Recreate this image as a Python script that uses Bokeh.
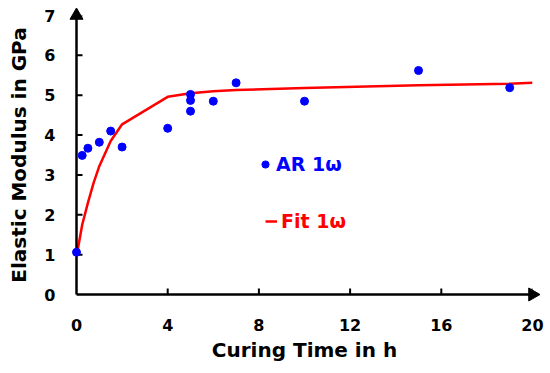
import math
from bokeh.plotting import figure
from bokeh.models import Range1d, Legend, LegendItem, FixedTicker
from bokeh.embed import file_html
from bokeh.resources import INLINE

# Measured data (AR 1ω)
ar_time = [0, 0.25, 0.5, 1, 1.5, 2, 4, 5, 5, 5, 6, 7, 10, 15, 19]
ar_modulus = [1.06, 3.49, 3.67, 3.82, 4.10, 3.70, 4.17, 5.02, 4.87, 4.60, 4.85, 5.31, 4.85, 5.62, 5.19]

# Fit curve (Fit 1ω)
fit_time = [0, 0.25, 0.5, 0.75, 1, 1.5, 2, 4, 5, 6, 7, 10, 15, 19, 20]
fit_modulus = [0.95, 1.75, 2.3, 2.8, 3.22, 3.85, 4.27, 4.96, 5.05, 5.1, 5.13, 5.18, 5.25, 5.29, 5.31]

x_ticks = [0, 4, 8, 12, 16, 20]
y_ticks = [0, 1, 2, 3, 4, 5, 6, 7]

FONT = "DejaVu Sans"
BLUE = "#0000FF"
RED = "#FF0000"

p = figure(width=548, height=370,
           x_range=Range1d(x_ticks[0], x_ticks[-1]), y_range=Range1d(y_ticks[0], y_ticks[-1]),
           output_backend="svg", toolbar_location=None,
           min_border_left=76, min_border_right=16,
           min_border_top=15, min_border_bottom=76)
p.grid.visible = False
p.outline_line_color = None
p.background_fill_color = "white"

for ax in (p.xaxis, p.yaxis):
    ax.axis_line_color = "black"
    ax.axis_line_width = 2.5
    ax.major_tick_in = 0
    ax.major_tick_out = 0
    ax.minor_tick_line_color = None
    ax.major_tick_line_color = None
    ax.major_label_text_font = FONT
    ax.major_label_text_font_style = "bold"
    ax.major_label_text_font_size = "16px"
    ax.major_label_text_color = "black"
    ax.axis_label_text_font = FONT
    ax.axis_label_text_font_style = "bold"
    ax.axis_label_text_font_size = "20px"
    ax.axis_label_text_color = "black"

p.xaxis.ticker = FixedTicker(ticks=x_ticks)
p.yaxis.ticker = FixedTicker(ticks=y_ticks)
p.xaxis.axis_label = "Curing Time in h"
p.yaxis.axis_label = "Elastic Modulus in GPa"
p.xaxis.major_label_standoff = 24
p.yaxis.major_label_standoff = 21
p.xaxis.axis_label_standoff = 4
p.yaxis.axis_label_standoff = 10

# inward tick marks (short screen-length rays from each axis)
p.ray(x=x_ticks[1:], y=[y_ticks[0]] * (len(x_ticks) - 1), length=6, length_units="screen",
      angle=math.pi / 2, line_color="black", line_width=2)
p.ray(x=[x_ticks[0]] * (len(y_ticks) - 1), y=y_ticks[1:], length=6, length_units="screen",
      angle=0, line_color="black", line_width=2)

# arrow heads at the ends of both axes
p.scatter([x_ticks[-1]], [y_ticks[0]], marker="triangle", size=13, angle=-math.pi / 2,
          fill_color="black", line_color="black", level="overlay")
p.scatter([x_ticks[0]], [y_ticks[-1]], marker="triangle", size=13,
          fill_color="black", line_color="black", level="overlay")

fit_r = p.line(fit_time, fit_modulus, line_color=RED, line_width=2.5)
ar_r = p.scatter(ar_time, ar_modulus, size=8, fill_color=BLUE, line_color=BLUE, level="overlay")

leg1 = Legend(items=[LegendItem(label="AR 1ω", renderers=[ar_r])],
              location=(180, 118), padding=0, margin=0, spacing=0,
              glyph_width=18, glyph_height=24, label_height=24, label_standoff=2,
              border_line_color=None, background_fill_alpha=0,
              label_text_font=FONT, label_text_font_style="bold",
              label_text_font_size="19px", label_text_color=BLUE)
leg2 = Legend(items=[LegendItem(label="Fit 1ω", renderers=[fit_r])],
              location=(189, 61), padding=0, margin=0, spacing=0,
              glyph_width=12, glyph_height=24, label_height=24, label_standoff=4,
              border_line_color=None, background_fill_alpha=0,
              label_text_font=FONT, label_text_font_style="bold",
              label_text_font_size="19px", label_text_color=RED)
p.add_layout(leg1, "center")
p.add_layout(leg2, "center")

open("out.html", "w").write(file_html(p, INLINE))
